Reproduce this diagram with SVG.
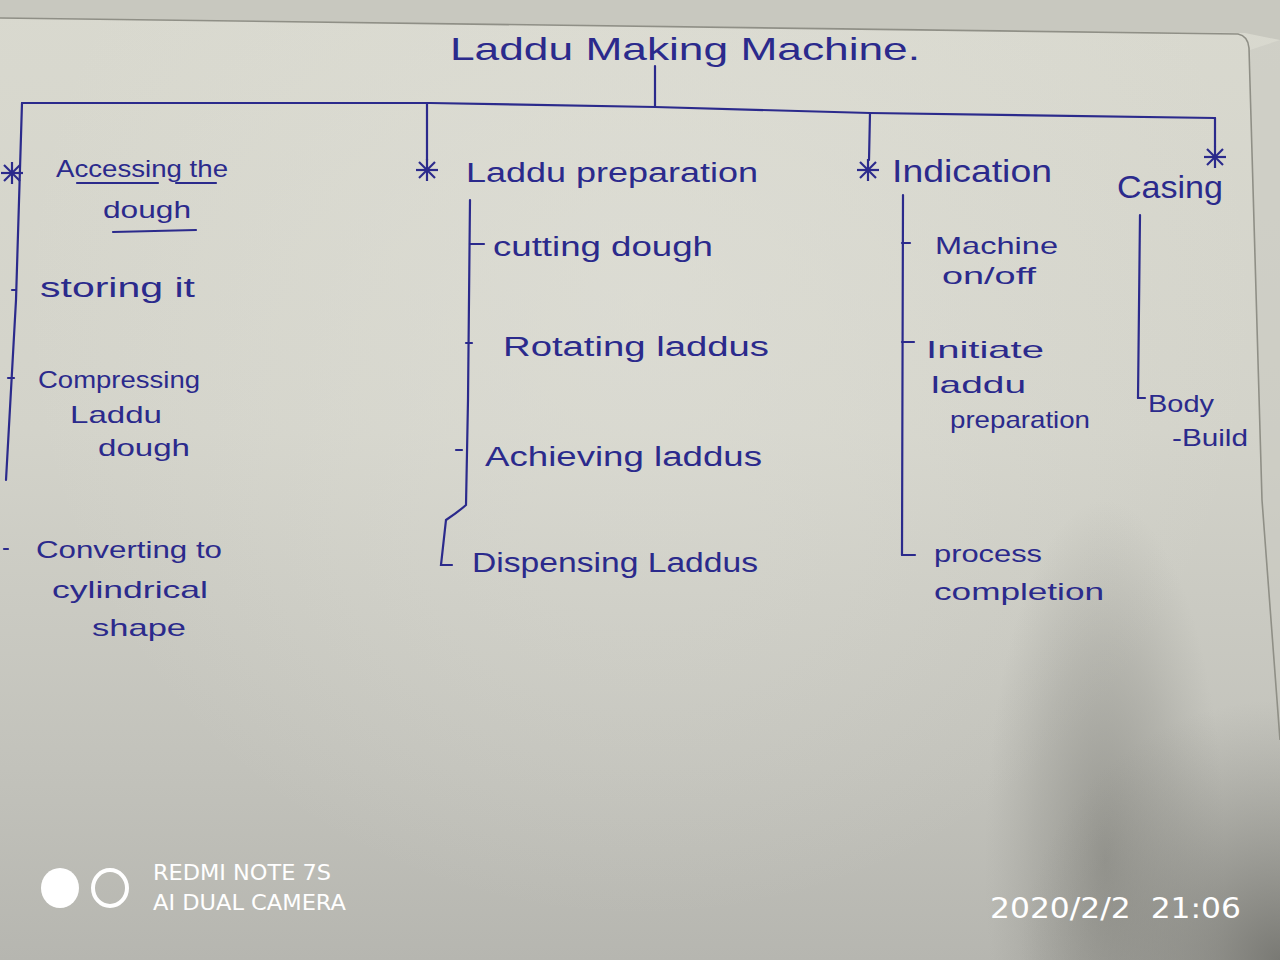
<svg xmlns="http://www.w3.org/2000/svg" xmlns:xlink="http://www.w3.org/1999/xlink" width="1280" height="960" viewBox="0 0 1280 960">
  <defs>
    <linearGradient id="paper" x1="0" y1="0" x2="0" y2="1">
      <stop offset="0" stop-color="#d9d9cf"/>
      <stop offset="0.45" stop-color="#d3d3ca"/>
      <stop offset="0.8" stop-color="#c2c2bb"/>
      <stop offset="1" stop-color="#b6b6b0"/>
    </linearGradient>
    <radialGradient id="band" cx="0.5" cy="0.5" r="0.5">
      <stop offset="0" stop-color="#85857f" stop-opacity="0.7"/>
      <stop offset="0.6" stop-color="#8e8e88" stop-opacity="0.3"/>
      <stop offset="1" stop-color="#9a9a94" stop-opacity="0"/>
    </radialGradient>
    <radialGradient id="corner" cx="1280" cy="960" r="260" gradientUnits="userSpaceOnUse">
      <stop offset="0" stop-color="#6a6a65" stop-opacity="0.8"/>
      <stop offset="1" stop-color="#8a8a84" stop-opacity="0"/>
    </radialGradient>
    <radialGradient id="glow" cx="640" cy="300" r="620" gradientUnits="userSpaceOnUse">
      <stop offset="0" stop-color="#e2e2da" stop-opacity="0.5"/>
      <stop offset="1" stop-color="#e2e2da" stop-opacity="0"/>
    </radialGradient>
    <g id="star">
      <line x1="-11" y1="0" x2="11" y2="0"/>
      <line x1="0" y1="-11" x2="0" y2="11"/>
      <line x1="-8" y1="-8" x2="8" y2="8"/>
      <line x1="-8" y1="8" x2="8" y2="-8"/>
    </g>
    <style>
      .ink { fill: #2b2a8c; font-family: "Liberation Sans", "DejaVu Sans", sans-serif; font-weight: normal; }
      .t { font-size: 27px; }
      .s { font-size: 24px; }
      .h { font-size: 32px; }
      .line { stroke: #2b2a8c; stroke-width: 2.2; fill: none; stroke-linecap: round; }
      .mark { stroke: #2b2a8c; stroke-width: 2.2; fill: none; }
      .wm { fill: #ffffff; font-family: "DejaVu Sans", "Liberation Sans", sans-serif; }
    </style>
  </defs>

  <!-- paper and lighting -->
  <rect x="0" y="0" width="1280" height="960" fill="url(#paper)"/>
  <rect x="0" y="0" width="1280" height="960" fill="url(#glow)"/>
  <ellipse cx="1105" cy="860" rx="120" ry="360" fill="url(#band)"/>
  <rect x="0" y="0" width="1280" height="960" fill="url(#corner)"/>
  <path d="M0,0 L1280,0 L1280,40 L1245,33 L0,18 Z" fill="#c8c8bf"/>
  <path d="M1250,50 L1262,500 L1280,740 L1280,960 L1280,40 Z" fill="#c9c9c1" opacity="0.6"/>
  <path d="M0,18 L1238,34 Q1248,36 1249,48 L1262,500 L1280,740" fill="none" stroke="#8f8f86" stroke-width="1.6"/>

  <!-- connectors -->
  <g id="connectors">
    <line class="line" x1="655" y1="66" x2="655" y2="107"/>
    <polyline class="line" points="22,103 430,103 655,107 870,113 1215,118"/>
    <polyline class="line" points="22,103 16,300 6,480"/>
    <line class="line" x1="427" y1="103" x2="427" y2="160"/>
    <line class="line" x1="870" y1="113" x2="869" y2="160"/>
    <line class="line" x1="1215" y1="118" x2="1215" y2="146"/>
    <!-- Laddu preparation branch -->
    <path class="line" d="M470,200 L468,400 L466,505 Q458,512 446,520 L441,565 L452,565"/>
    <line class="line" x1="470" y1="244" x2="484" y2="244"/>
    <line class="line" x1="466" y1="343" x2="472" y2="343"/>
    <line class="line" x1="456" y1="450" x2="462" y2="450"/>
    <!-- Indication branch -->
    <line class="line" x1="903" y1="195" x2="902" y2="555"/>
    <line class="line" x1="902" y1="243" x2="910" y2="243"/>
    <line class="line" x1="902" y1="342" x2="914" y2="342"/>
    <line class="line" x1="902" y1="555" x2="915" y2="555"/>
    <!-- Casing branch -->
    <line class="line" x1="1140" y1="215" x2="1138" y2="398"/>
    <line class="line" x1="1138" y1="398" x2="1145" y2="398"/>
    <!-- Accessing the dough branch -->
    <line class="line" x1="12" y1="290" x2="16" y2="290"/>
    <line class="line" x1="8" y1="378" x2="14" y2="378"/>
    <line class="line" x1="4" y1="549" x2="8" y2="549"/>
  </g>

  <!-- root -->
  <g id="root">
    <text class="ink h" x="450" y="60" textLength="470" lengthAdjust="spacingAndGlyphs">Laddu Making Machine.</text>
  </g>

  <!-- column 1 -->
  <g id="accessing">
    <use xlink:href="#star" class="mark" x="12" y="173"/>
    <text class="ink s" x="56" y="177" textLength="172" lengthAdjust="spacingAndGlyphs">Accessing the</text>
    <line class="line" x1="77" y1="183" x2="158" y2="183"/>
    <line class="line" x1="176" y1="183" x2="216" y2="183"/>
    <text class="ink s" x="103" y="218" textLength="88" lengthAdjust="spacingAndGlyphs">dough</text>
    <line class="line" x1="113" y1="232" x2="196" y2="230"/>
  </g>
  <g id="storing">
    <text class="ink t" x="40" y="297" textLength="155" lengthAdjust="spacingAndGlyphs">storing it</text>
  </g>
  <g id="compressing">
    <text class="ink s" x="38" y="388" textLength="162" lengthAdjust="spacingAndGlyphs">Compressing</text>
    <text class="ink s" x="70" y="423" textLength="92" lengthAdjust="spacingAndGlyphs">Laddu</text>
    <text class="ink s" x="98" y="456" textLength="92" lengthAdjust="spacingAndGlyphs">dough</text>
  </g>
  <g id="converting">
    <text class="ink s" x="36" y="558" textLength="186" lengthAdjust="spacingAndGlyphs">Converting to</text>
    <text class="ink s" x="52" y="598" textLength="156" lengthAdjust="spacingAndGlyphs">cylindrical</text>
    <text class="ink s" x="92" y="636" textLength="94" lengthAdjust="spacingAndGlyphs">shape</text>
  </g>

  <!-- column 2 -->
  <g id="laddu-preparation">
    <use xlink:href="#star" class="mark" x="427" y="170"/>
    <text class="ink t" x="466" y="182" textLength="292" lengthAdjust="spacingAndGlyphs">Laddu preparation</text>
  </g>
  <g id="cutting">
    <text class="ink t" x="493" y="256" textLength="220" lengthAdjust="spacingAndGlyphs">cutting dough</text>
  </g>
  <g id="rotating">
    <text class="ink t" x="503" y="356" textLength="266" lengthAdjust="spacingAndGlyphs">Rotating laddus</text>
  </g>
  <g id="achieving">
    <text class="ink t" x="485" y="466" textLength="277" lengthAdjust="spacingAndGlyphs">Achieving laddus</text>
  </g>
  <g id="dispensing">
    <text class="ink t" x="472" y="572" textLength="286" lengthAdjust="spacingAndGlyphs">Dispensing Laddus</text>
  </g>

  <!-- column 3 -->
  <g id="indication">
    <use xlink:href="#star" class="mark" x="868" y="170"/>
    <text class="ink h" x="892" y="182" textLength="160" lengthAdjust="spacingAndGlyphs">Indication</text>
  </g>
  <g id="machine-onoff">
    <text class="ink s" x="935" y="254" textLength="123" lengthAdjust="spacingAndGlyphs">Machine</text>
    <text class="ink s" x="942" y="284" textLength="94" lengthAdjust="spacingAndGlyphs">on/off</text>
  </g>
  <g id="initiate">
    <text class="ink s" x="926" y="358" textLength="118" lengthAdjust="spacingAndGlyphs">Initiate</text>
    <text class="ink s" x="931" y="393" textLength="95" lengthAdjust="spacingAndGlyphs">laddu</text>
    <text class="ink s" x="950" y="428" textLength="140" lengthAdjust="spacingAndGlyphs">preparation</text>
  </g>
  <g id="process-completion">
    <text class="ink s" x="934" y="562" textLength="108" lengthAdjust="spacingAndGlyphs">process</text>
    <text class="ink s" x="934" y="600" textLength="170" lengthAdjust="spacingAndGlyphs">completion</text>
  </g>

  <!-- column 4 -->
  <g id="casing">
    <use xlink:href="#star" class="mark" x="1215" y="157"/>
    <text class="ink h" x="1117" y="198" textLength="106" lengthAdjust="spacingAndGlyphs">Casing</text>
  </g>
  <g id="body-build">
    <text class="ink s" x="1148" y="412" textLength="66" lengthAdjust="spacingAndGlyphs">Body</text>
    <text class="ink s" x="1172" y="446" textLength="76" lengthAdjust="spacingAndGlyphs">-Build</text>
  </g>

  <!-- camera stamp -->
  <g id="stamp">
    <ellipse cx="60" cy="888" rx="19" ry="20" fill="#ffffff"/>
    <ellipse cx="110" cy="888" rx="17" ry="18" fill="none" stroke="#ffffff" stroke-width="4"/>
    <text class="wm" x="153" y="880" font-size="22" textLength="178" lengthAdjust="spacingAndGlyphs">REDMI NOTE 7S</text>
    <text class="wm" x="153" y="910" font-size="22" textLength="193" lengthAdjust="spacingAndGlyphs">AI DUAL CAMERA</text>
    <text class="wm" x="990" y="918" font-size="28" textLength="251" lengthAdjust="spacingAndGlyphs" xml:space="preserve">2020/2/2  21:06</text>
  </g>
</svg>
